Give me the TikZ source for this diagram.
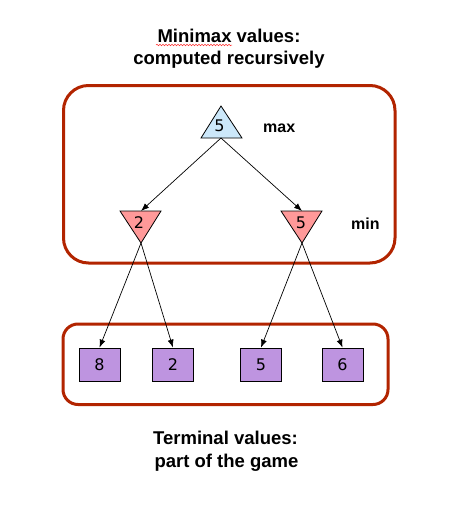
\documentclass[tikz,border=0pt]{standalone}
\usepackage{fontspec}
\setmainfont{Liberation Sans}
\newfontfamily\numfont{DejaVu Sans}
\usetikzlibrary{arrows.meta,decorations.pathmorphing}
\definecolor{framered}{RGB}{178,36,0}
\definecolor{maxfill}{RGB}{204,232,250}
\definecolor{minfill}{RGB}{255,153,153}
\definecolor{leaffill}{RGB}{190,148,224}
\begin{document}
\begin{tikzpicture}[x=1pt,y=-1pt,
  framebox/.style={draw=framered, line width=3pt},
  tri/.style={draw=black, line width=0.8pt, line join=miter},
  leafbox/.style={draw=black, fill=leaffill, line width=0.8pt, minimum width=41pt, minimum height=33pt, inner sep=0pt, font=\numfont\fontsize{16}{19}\selectfont},
  val/.style={font=\numfont\fontsize{16}{19}\selectfont, inner sep=0pt},
  lbl/.style={font=\bfseries\fontsize{16}{19}\selectfont, inner sep=0pt, anchor=base west},
  captext/.style={font=\bfseries\fontsize{18.5}{22.5}\selectfont, inner sep=0pt, anchor=base},
  conn/.style={draw=black, line width=0.7pt, -{Latex[length=8pt,width=6pt]}}
]
\useasboundingbox (0,0) rectangle (463,512);

% frames
\draw[framebox, rounded corners=25pt] (63.5,85.5) rectangle (395,263);
\draw[framebox, rounded corners=15pt] (63,324) rectangle (388,404.5);

% captions
\node[captext] (t1) at (229,42) {Minimax values:};
\node[captext] (t2) at (229,64.5) {computed recursively};
\draw[red!80, line width=0.5pt, decorate, decoration={snake, amplitude=0.8pt, segment length=3pt}] (156,45) -- (232,45);
\node[captext] (b1) at (225.5,444) {Terminal values:};
\node[captext] (b2) at (226.5,467) {part of the game};

% max node
\draw[tri, fill=maxfill] (201,138) -- (221,106) -- (242,138) -- cycle;
\coordinate (maxbot) at (221,138);
\node[val] (maxv) at (219.5,125.5) {5};
\node[lbl] (maxlbl) at (263,132) {max};

% min nodes
\draw[tri, fill=minfill] (120,211) -- (161,211) -- (141,243) -- cycle;
\coordinate (minLtop) at (141,211);
\coordinate (minLbot) at (141,243);
\node[val] (minLv) at (139,222.5) {2};

\draw[tri, fill=minfill] (281,211) -- (322,211) -- (302,243) -- cycle;
\coordinate (minRtop) at (302,211);
\coordinate (minRbot) at (302,243);
\node[val] (minRv) at (301,222.5) {5};
\node[lbl] (minlbl) at (351,229) {min};

% leaves
\node[leafbox] (l8) at (99.5,364.5) {8};
\node[leafbox] (l2) at (173,364.5) {2};
\node[leafbox] (l5) at (261,364.5) {5};
\node[leafbox] (l6) at (342.5,364.5) {6};

% connectors
\draw[conn] (maxbot) -- (minLtop);
\draw[conn] (maxbot) -- (minRtop);
\draw[conn] (minLbot) -- (l8.north);
\draw[conn] (minLbot) -- (l2.north);
\draw[conn] (minRbot) -- (l5.north);
\draw[conn] (minRbot) -- (l6.north);
\end{tikzpicture}
\end{document}
